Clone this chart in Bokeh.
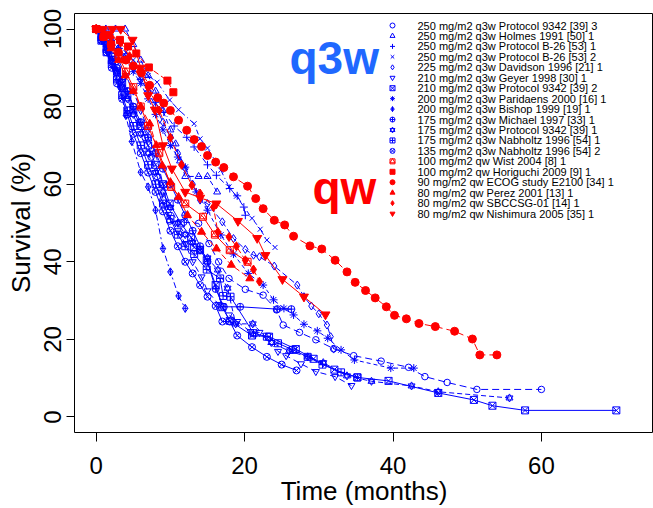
from bokeh.plotting import figure
from bokeh.models import Range1d, FixedTicker
from bokeh.core.properties import value
from bokeh.embed import file_html
from bokeh.resources import INLINE

# ---------------- data ----------------
legend_labels = [
    "250 mg/m2 q3w Protocol 9342 [39] 3",
    "250 mg/m2 q3w Holmes 1991 [50] 1",
    "250 mg/m2 q3w Protocol B-26 [53] 1",
    "250 mg/m2 q3w Protocol B-26 [53] 2",
    "225 mg/m2 q3w Davidson 1996 [21] 1",
    "210 mg/m2 q3w Geyer 1998 [30] 1",
    "210 mg/m2 q3w Protocol 9342 [39] 2",
    "200 mg/m2 q3w Paridaens 2000 [16] 1",
    "200 mg/m2 q3w Bishop 1999 [19] 1",
    "175 mg/m2 q3w Michael 1997 [33] 1",
    "175 mg/m2 q3w Protocol 9342 [39] 1",
    "175 mg/m2 q3w Nabholtz 1996 [54] 1",
    "135 mg/m2 q3w Nabholtz 1996 [54] 2",
    "100 mg/m2 qw Wist 2004 [8] 1",
    "100 mg/m2 qw Horiguchi 2009 [9] 1",
    "90 mg/m2 qw ECOG study E2100 [34] 1",
    "80 mg/m2 qw Perez 2001 [13] 1",
    "80 mg/m2 qw SBCCSG-01 [14] 1",
    "80 mg/m2 qw Nishimura 2005 [35] 1",
]

p9342_3_x = [0, 0.7, 1.4, 2.1, 2.8, 3.5, 4.3, 5.0, 5.8, 6.6, 7.4, 8.2, 9.0, 9.9, 11.8, 13.8, 15.2, 16.5, 17.9,
             20.1, 22.5, 24.3, 25.2, 27.4, 29.6, 32.0, 34.7, 38.4, 42.1, 44.3, 47.3, 51.3, 60.0]
p9342_3_y = [100, 98, 96, 93, 90, 87, 84, 80, 76, 72, 67, 62, 56, 50.5, 50.2, 49.9, 44.7, 40.0, 35.7,
             32.9, 31.4, 27.6, 23.7, 21.8, 19.9, 17.6, 15.8, 14.4, 12.8, 10.4, 8.9, 7.1, 7.1]

holmes_x = [0, 1.3, 2.6, 3.9, 5, 6, 7, 8, 9, 10, 10.7, 11.3, 12.0, 13.8, 15.0, 16.3]
holmes_y = [100, 100, 100, 100, 96, 92, 88, 84, 79, 74, 70.4, 66, 62, 62, 62, 58]

b26_1_x = [0, 1, 2, 3, 4, 5, 6, 7, 8.0, 9.1, 10.5, 12.2, 13.2, 15.0, 16.2, 18.0, 19.0, 19.9, 20.1]
b26_1_y = [100, 99, 97, 95, 93, 90, 87, 84, 81.1, 78.6, 75, 72.1, 69.6, 65.0, 62.3, 58.9, 57, 54.1, 52.0]

b26_2_x = [0, 1, 2, 3, 4, 5, 6, 7, 8.2, 9.9, 11.1, 13.2, 14.0, 15.0, 16.8, 17.9, 18.9, 21.0, 22.1, 23.0, 24.1]
b26_2_y = [100, 99, 98, 96, 94, 92, 90, 88, 86.3, 81.7, 79.2, 75.6, 71.7, 69.3, 63.6, 59.3, 56.9, 51.2, 48.4, 45.6, 43.7]

davidson_x = [0, 1, 2, 3, 4, 5, 6, 7, 8, 9, 10, 11, 12, 13, 14.0, 15.0, 17.0, 18.5, 20.1, 21.2, 22.0, 24.0,
              27.1, 28.0, 29.0, 30.0, 31.1, 31.6, 32.0]
davidson_y = [100, 99, 97, 95, 93, 90, 87, 84, 80, 76, 72, 68, 64, 60, 55.9, 55.0, 50.3, 46, 43.2, 41.7, 41.3, 38.9,
              34.0, 31.0, 28.6, 26.6, 23.7, 20.7, 17.5]

geyer_x = [0, 1, 2, 3, 4, 5, 6, 7, 8, 9, 9.8, 11, 12.0, 13, 14.2, 15.0, 16.5, 17.9, 19.0, 20.8, 22.0, 24.5,
           25.6, 27.6, 29.6, 32.2, 34.4]
geyer_y = [100, 98, 95, 92, 88, 84, 79, 74, 68, 60, 52.2, 48, 44.7, 40, 36.1, 32.5, 29, 26.3, 24.6, 22.0, 21.8, 16.9,
           15.8, 13.7, 11.7, 10.4, 8.1]

p9342_2_x = [0, 0.7, 1.4, 2.1, 2.8, 3.5, 4.2, 5, 6, 7, 8, 9, 9.9, 11.4, 12.8, 13.2, 14.0, 14.9, 16.1, 17.0, 18.0,
             21.0, 23.3, 26.9, 29.3, 32.1, 35.2, 39.4, 46.1, 50.9, 53.4, 57.8, 70.1]
p9342_2_y = [100, 98, 95, 92, 89, 86, 83, 79, 75, 70, 65, 60, 55.0, 49.9, 46.3, 43.7, 43.0, 40.4, 34, 28.3, 24.8,
             21.0, 20.7, 17.5, 15.0, 12.2, 10.2, 9.3, 6.2, 4.4, 2.9, 1.7, 1.7]

paridaens_x = [0, 1, 2, 3, 4, 5, 6, 7, 8, 9, 10, 11, 12.0, 13.5, 15.0, 16.8, 18.5, 20.5, 22.5, 23.9, 25.3, 26.6,
               28.0, 29.8, 31.2, 33.0, 34.8, 39.7, 42.8]
paridaens_y = [100, 99, 97, 95, 92, 89, 86, 82, 78, 74, 70, 67, 64.4, 58, 53.3, 46.9, 42, 37, 34.0, 30.2, 28.0, 26.3,
               23.9, 22.2, 20.3, 17.3, 14.7, 12.6, 12.6]

bishop_x = [0, 0.8, 1.6, 2.4, 3.2, 4.0, 4.8, 6.0, 7.0, 8.0, 9.0, 10.0, 11.1, 12.0]
bishop_y = [100, 97, 94, 90, 85, 77.7, 71, 63.1, 59.3, 53.3, 43.4, 37.4, 31.2, 28.0]

michael_x = [0, 0.7, 1.4, 2.1, 2.8, 3.5, 4.2, 5, 6, 7, 8, 9, 10, 11, 12, 13, 14, 15, 16.1, 17.2, 19.4, 24.4, 26.3]
michael_y = [100, 98, 96, 93, 90, 87, 84, 80, 76, 72, 68, 64, 60, 56, 52, 48, 44, 40, 33, 28.4, 28.4, 27.8, 27.8]

p9342_1_x = [0, 0.7, 1.4, 2.1, 2.8, 3.5, 4.2, 5, 6, 7, 8, 9, 10, 11, 12, 13, 14, 15, 16.4, 17.7, 18.8, 21.1,
             23.6, 26, 28.5, 30.6, 33.8, 37.1, 42.5, 46.1, 55.7]
p9342_1_y = [100, 98, 95, 92, 89, 85, 82, 78, 73, 68, 63, 58, 54, 50, 47, 45, 43, 41, 37.9, 33.2, 24.0, 24.0,
             19.2, 17, 15.5, 14.0, 10.6, 9.2, 8.0, 6.5, 4.9]

nab175_x = [0, 0.7, 1.4, 2.1, 2.8, 3.5, 4.2, 5, 6, 7, 8, 9, 10, 11, 12, 13.2, 14.9, 16.7, 17.1, 18.1, 21.2,
            23.0, 24.5, 26.5, 28.5, 30.5, 33, 35.2]
nab175_y = [100, 97, 94, 91, 87, 83, 79, 75, 70, 65, 60, 55, 51, 47, 44, 42, 38, 35.7, 31.2, 31.0, 21.6,
            20.7, 19, 17.3, 15.5, 13.5, 11.5, 10.2]

nab135_x = [0, 0.7, 1.4, 2.1, 2.8, 3.5, 4.2, 5, 6, 7, 8, 9, 10, 11, 12, 13, 14, 15, 16.1, 17.0, 18.0, 19, 21,
            23, 25, 27]
nab135_y = [100, 97, 94, 90, 86, 82, 78, 73, 68, 63, 58, 53, 48, 44, 40, 37, 34, 31, 28.6, 24.6, 24.6, 21, 18,
            15.5, 13.5, 12]

wist_x = [0, 1, 2, 3, 4, 5, 6, 7, 8.5, 10.1, 12, 14.4, 16, 18, 20.4]
wist_y = [100, 98, 96, 93, 89, 85, 80, 75, 68, 59.3, 55, 51.6, 47, 43, 40.0]

horiguchi_x = [0, 1.5, 3.2, 4.3, 5.4, 7.1, 9.6, 10.4]
horiguchi_y = [100, 98.5, 97.2, 95.5, 93.7, 90.1, 86.7, 83.7]

ecog_x = [0, 1, 2, 3, 4, 5, 6.1, 7.2, 8.3, 9.1, 10.0, 11.1, 12.2, 13.2, 14.2, 15.0, 16.1, 17.2, 18.5, 20.4, 21.5,
          22.5, 24.0, 25.4, 26.6, 28.8, 30.4, 32.2, 33.8, 34.9, 36.3, 37.6, 39.1, 40.2, 41.8, 43.5, 45.7, 48.3,
          50.7, 51.7, 54.0]
ecog_y = [100, 98, 96, 94, 92, 90.5, 88.7, 85.5, 82.3, 80.9, 79.0, 76.5, 73.9, 71.5, 69.7, 67.4, 65.7, 64.3, 61.9,
          59.5, 56.3, 53.7, 50.7, 49.5, 46.6, 44.1, 43.3, 40.4, 37.4, 34.7, 32.6, 30.7, 28.4, 26.2, 25.3, 24.1,
          23.3, 22.1, 20.1, 16.0, 16.0]

perez_x = [0, 1, 2, 3, 3.9, 5, 6, 7.2, 8.1, 8.9, 10, 11.1, 12.3, 14.2, 16.2, 18.2, 20.7]
perez_y = [100, 98, 95, 92, 88, 84, 80, 75.6, 70, 64.8, 60.5, 56.7, 52, 47.7, 43.4, 39.2, 35.7]

sbccsg_x = [0, 1, 2, 3.3, 4.5, 5.8, 7, 8.5, 10, 11.5, 12.9, 14.0, 15.8, 16.4, 17.9, 18.9, 20.1, 21.2, 22.0]
sbccsg_y = [100, 99, 98, 96.5, 93, 89, 85, 79, 72, 65, 59.7, 57.6, 54.1, 47.7, 46.4, 44.0, 40.4, 38.0, 34.9]

nishimura_x = [0, 0.9, 2.2, 3.3, 4.9, 6, 7.0, 7.9, 9, 10.2, 12.0, 14, 16.2, 19.1, 21.7, 22.8, 25.1, 28, 30.9]
nishimura_y = [100, 100, 100, 100, 97.2, 90, 82.9, 79.2, 70, 64.0, 58.0, 56.5, 55.0, 50.5, 46.1, 41.7, 35.5, 31, 26.4]

x_ticks = [0, 20, 40, 60]
y_ticks = [0, 20, 40, 60, 80, 100]
group_labels = ["q3w", "qw"]

# ---------------- styles ----------------
BLUE = "#0000ff"
RED = "#ff0000"
Q3W_COL = "#1f68ff"
FONT = "Liberation Sans"

series = [
    # x, y, markers, color, dash, size, filled
    (p9342_3_x, p9342_3_y, ["circle"], BLUE, "7 4", 6.5, False),
    (holmes_x, holmes_y, ["triangle"], BLUE, "5 3", 7, False),
    (b26_1_x, b26_1_y, ["cross"], BLUE, "6 3 1 3", 8, False),
    (b26_2_x, b26_2_y, ["x"], BLUE, "5 3 1 3", 7, False),
    (davidson_x, davidson_y, ["diamond"], BLUE, "6 3", 8, False),
    (geyer_x, geyer_y, ["inverted_triangle"], BLUE, "6 4", 7, False),
    (p9342_2_x, p9342_2_y, ["square_x"], BLUE, "solid", 7, False),
    (paridaens_x, paridaens_y, ["asterisk"], BLUE, "4 3", 8, False),
    (bishop_x, bishop_y, ["diamond_cross"], BLUE, "6 3 2 3", 8, False),
    (michael_x, michael_y, ["circle_cross"], BLUE, "solid", 7, False),
    (p9342_1_x, p9342_1_y, ["triangle", "inverted_triangle"], BLUE, "5 3", 7, False),
    (nab175_x, nab175_y, ["square_cross"], BLUE, "solid", 7, False),
    (nab135_x, nab135_y, ["circle_x"], BLUE, "solid", 7, False),
    (wist_x, wist_y, ["square", "triangle"], RED, "solid", 7, False),
    (horiguchi_x, horiguchi_y, ["square"], RED, "6 3", 7, True),
    (ecog_x, ecog_y, ["circle"], RED, "7 4", 8, True),
    (perez_x, perez_y, ["triangle"], RED, "6 3", 8, True),
    (sbccsg_x, sbccsg_y, ["diamond"], RED, "6 3", 9, True),
    (nishimura_x, nishimura_y, ["inverted_triangle"], RED, "solid", 9, True),
]

# ---------------- layout (the page template has no body margin) ----------------
W, H = 653, 508
FL, FT = 74, 13         # frame left/top inside the figure (px)
FW, FH = W - FL, 419    # frame size (px)
PX_PER_MONTH = 7.42
X0 = -(95.7 - FL) / PX_PER_MONTH
X1 = X0 + FW / PX_PER_MONTH
Y0, Y1 = -4.0, 104.0


def px2x(px):
    return X0 + (px - FL) * (X1 - X0) / FW


def py2y(py):
    return Y1 - (py - FT) * (Y1 - Y0) / FH


p = figure(width=W, height=H, output_backend="svg", toolbar_location=None,
           x_range=Range1d(X0, X1), y_range=Range1d(Y0, Y1),
           min_border_left=FL, min_border_right=0, min_border_top=FT,
           min_border_bottom=H - FT - FH,
           x_axis_label="Time (months)", y_axis_label="Survival (%)")
p.background_fill_color = "white"
p.border_fill_color = "white"
p.outline_line_color = "black"
p.outline_line_width = 1
p.outline_line_alpha = 1.0
p.grid.grid_line_color = None

p.xaxis.ticker = FixedTicker(ticks=x_ticks)
p.yaxis.ticker = FixedTicker(ticks=y_ticks)
p.axis.axis_line_color = None
p.axis.minor_tick_line_color = None
p.axis.major_tick_line_color = "black"
p.axis.major_tick_in = 0
p.xaxis.major_tick_out = 9
p.yaxis.major_tick_out = 8
p.axis.major_label_text_font = FONT
p.axis.major_label_text_font_size = "24px"
p.axis.major_label_text_color = "black"
p.axis.axis_label_text_font = FONT
p.axis.axis_label_text_font_size = "26px"
p.axis.axis_label_text_font_style = "normal"
p.axis.axis_label_text_color = "black"
p.xaxis.major_label_standoff = 15
p.xaxis.axis_label_standoff = -1
p.yaxis.major_label_orientation = "vertical"
p.yaxis.major_label_standoff = 5
p.yaxis.axis_label_standoff = 6

# curves
for xs, ys, markers, col, dash, size, filled in series:
    p.line(xs, ys, line_color=col, line_width=1, line_dash=dash)
    for m in markers:
        p.scatter(xs, ys, marker=m, size=size, line_color=col, line_width=1,
                  fill_color=col if filled else None)

# legend (manual, to match the compact R legend)
leg_mx = px2x(392)
leg_tx = px2x(417)
row0, drow = 25.0, 10.45
for k, (lab, s) in enumerate(zip(legend_labels, series)):
    yk = py2y(row0 + k * drow)
    markers, col, filled = s[2], s[3], s[6]
    for m in markers:
        p.scatter([leg_mx], [yk], marker=m, size=5, line_color=col, line_width=1,
                  fill_color=col if filled else None)
    p.text([leg_tx], [yk], text=[lab], text_font=value(FONT), text_font_size="11px",
           text_baseline="middle", text_align="left", text_color="black")

# big group labels
p.text([px2x(289)], [py2y(57)], text=[group_labels[0]], text_font=value(FONT),
       text_font_size="46px", text_font_style="bold", text_color=Q3W_COL,
       text_baseline="alphabetic", text_align="left")
p.text([px2x(312)], [py2y(187)], text=[group_labels[1]], text_font=value(FONT),
       text_font_size="46px", text_font_style="bold", text_color=RED,
       text_baseline="alphabetic", text_align="left")

open("out.html", "w").write(file_html(p, INLINE))
